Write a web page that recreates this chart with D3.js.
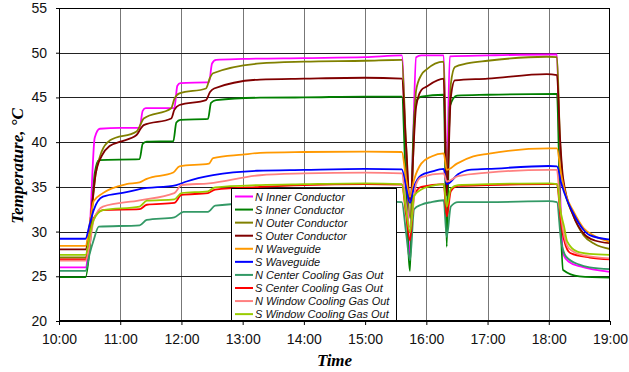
<!DOCTYPE html>
<html>
<head>
<meta charset="utf-8">
<script src="https://cdn.jsdelivr.net/npm/d3@7"></script>
<style>
  body { margin: 0; background: #fff; }
  svg { display: block; }
  .tick text { font-family: Arial, "Liberation Sans", sans-serif; font-size: 14px; fill: #111; }
  .legend text { font-family: Arial, "Liberation Sans", sans-serif; font-size: 11px; font-style: italic; fill: #111; }
  .title { font-family: "Times New Roman", "Liberation Serif", serif; font-weight: bold; font-style: italic; font-size: 17px; fill: #000; }
</style>
</head>
<body>
<svg id="chart" width="629" height="372"></svg>
<script>
// series readings, [time, °C]
const nInnerConductor = [
  ['10:00', 26.0], ['10:26', 26.0], ['10:30', 30.0], ['10:35', 40.5], ['10:40', 41.5], ['11:00', 41.6],
  ['11:19', 41.6], ['11:22', 43.5], ['11:25', 43.8], ['11:53', 43.8], ['11:56', 46.3], ['11:59', 46.6],
  ['12:27', 46.7], ['12:30', 48.8], ['12:34', 49.2], ['13:00', 49.3], ['14:00', 49.4], ['15:00', 49.5],
  ['15:36', 49.7], ['15:40', 38.0], ['15:44', 27.3], ['15:47', 40.0], ['15:50', 49.5], ['15:55', 49.7],
  ['16:17', 49.7], ['16:20', 36.0], ['16:23', 49.6], ['17:00', 49.7], ['18:00', 49.8], ['18:08', 49.8],
  ['18:11', 35.0], ['18:14', 27.5], ['18:20', 26.6], ['18:31', 26.1], ['19:00', 25.5],
];
const sInnerConductor = [
  ['10:00', 24.9], ['10:26', 24.9], ['10:30', 28.0], ['10:35', 36.5], ['10:39', 38.0], ['11:19', 38.1],
  ['11:22', 39.8], ['11:26', 40.05], ['11:52', 40.1], ['11:55', 42.2], ['11:59', 42.5], ['12:26', 42.6],
  ['12:29', 44.4], ['12:34', 44.7], ['13:17', 44.97], ['14:00', 45.0], ['15:00', 45.1], ['15:36', 45.1],
  ['15:40', 35.0], ['15:44', 25.6], ['15:47', 40.0], ['15:50', 44.6], ['15:55', 45.1], ['16:17', 45.3],
  ['16:20', 28.3], ['16:23', 44.0], ['16:30', 45.2], ['17:00', 45.3], ['18:08', 45.4], ['18:11', 33.0],
  ['18:14', 25.7], ['18:30', 25.0], ['19:00', 24.85],
];
const nOuterConductor = [
  ['10:00', 27.1], ['10:26', 27.1], ['10:30', 30.0], ['10:36', 36.5], ['10:42', 39.0], ['10:50', 40.2],
  ['11:16', 41.2], ['11:20', 42.0], ['11:23', 42.65], ['11:50', 43.8], ['11:53', 44.8], ['11:58', 45.45],
  ['12:24', 46.0], ['12:28', 47.2], ['12:31', 47.7], ['13:17', 48.8], ['14:00', 49.0], ['15:00', 49.1],
  ['15:36', 49.2], ['15:40', 40.0], ['15:44', 31.5], ['15:50', 45.8], ['15:55', 47.5], ['16:00', 48.1],
  ['16:17', 49.0], ['16:20', 35.0], ['16:24', 46.5], ['16:28', 48.4], ['16:40', 48.8], ['17:00', 49.1],
  ['17:58', 49.55], ['18:08', 49.5], ['18:11', 40.2], ['18:14', 35.5], ['18:24', 31.8], ['18:34', 29.6],
  ['18:45', 28.6], ['19:00', 28.05],
];
const sOuterConductor = [
  ['10:00', 28.0], ['10:26', 28.0], ['10:30', 30.5], ['10:36', 36.5], ['10:42', 38.5], ['10:50', 39.6],
  ['11:00', 40.05], ['11:16', 40.8], ['11:20', 41.5], ['11:23', 41.9], ['11:50', 42.65], ['11:53', 43.6],
  ['11:58', 44.15], ['12:24', 44.7], ['12:28', 45.6], ['12:32', 46.0], ['13:17', 47.0], ['14:00', 47.1],
  ['15:00', 47.2], ['15:36', 47.1], ['15:40', 40.0], ['15:44', 33.5], ['15:50', 43.96], ['15:55', 45.8],
  ['16:00', 46.2], ['16:17', 47.1], ['16:20', 34.0], ['16:24', 45.0], ['16:28', 46.9], ['17:00', 47.1],
  ['17:58', 47.6], ['18:08', 47.5], ['18:11', 40.5], ['18:14', 36.0], ['18:24', 31.8], ['18:34', 29.8],
  ['18:45', 29.0], ['19:00', 28.7],
];
const nWaveguide = [
  ['10:00', 28.4], ['10:26', 28.4], ['10:30', 30.8], ['10:34', 33.4], ['10:43', 34.3], ['11:06', 35.3],
  ['11:19', 35.5], ['11:26', 35.9], ['11:52', 36.6], ['11:58', 37.3], ['12:27', 37.6], ['12:31', 38.2],
  ['13:00', 38.6], ['13:17', 38.8], ['14:00', 38.9], ['15:00', 38.95], ['15:36', 38.9], ['15:40', 36.0],
  ['15:44', 33.9], ['15:48', 35.8], ['15:55', 37.6], ['16:05', 38.4], ['16:17', 38.75], ['16:20', 36.9],
  ['16:30', 37.6], ['16:46', 38.4], ['17:00', 38.7], ['18:00', 39.3], ['18:08', 39.3], ['18:12', 36.5],
  ['18:17', 34.0], ['18:24', 32.3], ['18:34', 30.4], ['18:45', 29.5], ['19:00', 28.85],
];
const sWaveguide = [
  ['10:00', 29.2], ['10:26', 29.2], ['10:30', 30.8], ['10:34', 32.4], ['10:43', 33.9], ['11:06', 34.4],
  ['11:19', 34.75], ['11:55', 35.2], ['12:05', 35.6], ['12:31', 36.3], ['13:14', 36.8], ['14:00', 36.9],
  ['15:00', 37.0], ['15:36', 36.96], ['15:40', 35.0], ['15:44', 33.2], ['15:48', 35.0], ['15:55', 36.3],
  ['16:05', 36.7], ['16:17', 37.0], ['16:20', 35.3], ['16:31', 36.4], ['16:42', 36.9], ['17:00', 37.0],
  ['18:00', 37.33], ['18:08', 37.3], ['18:12', 35.5], ['18:18', 33.5], ['18:24', 32.05], ['18:34', 30.2],
  ['18:40', 29.6], ['19:00', 29.1],
];
const nCenterCooling = [
  ['10:00', 25.6], ['10:26', 25.6], ['10:30', 27.5], ['10:34', 29.05], ['10:39', 30.55], ['11:19', 30.7],
  ['11:26', 31.3], ['11:53', 31.6], ['12:02', 32.2], ['12:26', 32.2], ['12:33', 32.9], ['13:17', 33.2],
  ['14:00', 33.3], ['15:00', 33.4], ['15:36', 33.3], ['15:40', 30.0], ['15:44', 26.8], ['15:48', 32.5],
  ['15:55', 33.0], ['16:05', 33.3], ['16:17', 33.5], ['16:20', 29.4], ['16:24', 32.8], ['16:31', 33.3],
  ['17:00', 33.3], ['18:00', 33.4], ['18:08', 33.3], ['18:12', 29.0], ['18:17', 27.2], ['18:30', 26.3],
  ['18:40', 26.0], ['19:00', 25.8],
];
const sCenterCooling = [
  ['10:00', 26.9], ['10:26', 26.9], ['10:30', 29.0], ['10:34', 31.5], ['10:43', 32.4], ['11:19', 32.5],
  ['11:26', 33.0], ['11:53', 33.2], ['12:00', 34.1], ['12:26', 34.3], ['12:33', 34.7], ['13:17', 35.0],
  ['14:00', 35.2], ['15:00', 35.3], ['15:36', 35.25], ['15:40', 32.0], ['15:44', 29.0], ['15:48', 34.0],
  ['15:55', 35.0], ['16:17', 35.3], ['16:20', 31.7], ['16:24', 34.5], ['16:31', 35.1], ['17:00', 35.2],
  ['18:00', 35.3], ['18:08', 35.3], ['18:12', 31.0], ['18:15', 29.05], ['18:21', 27.6], ['18:40', 27.1],
  ['19:00', 26.9],
];
const nWindowCooling = [
  ['10:00', 26.75], ['10:26', 26.75], ['10:30', 28.5], ['10:34', 31.3], ['10:43', 32.8], ['11:19', 33.5],
  ['11:53', 34.3], ['12:00', 35.2], ['12:27', 35.4], ['13:17', 36.3], ['14:00', 36.5], ['15:00', 36.6],
  ['15:36', 36.5], ['15:40', 33.0], ['15:44', 30.5], ['15:50', 35.3], ['15:55', 36.1], ['16:17', 36.5],
  ['16:20', 35.6], ['16:31', 36.2], ['17:00', 36.6], ['18:00', 36.9], ['18:08', 36.9], ['18:11', 33.0],
  ['18:14', 30.2], ['18:20', 28.1], ['18:35', 27.3], ['19:00', 27.0],
];
const sWindowCooling = [
  ['10:00', 27.4], ['10:26', 27.4], ['10:30', 29.5], ['10:34', 31.3], ['10:43', 32.4], ['11:19', 32.8],
  ['11:26', 33.45], ['11:53', 33.6], ['12:00', 34.3], ['12:26', 34.5], ['12:33', 34.95], ['13:17', 35.2],
  ['14:00', 35.3], ['15:00', 35.4], ['15:36', 35.3], ['15:40', 32.5], ['15:44', 29.9], ['15:48', 34.0],
  ['15:55', 34.7], ['16:05', 35.1], ['16:17', 35.3], ['16:20', 32.8], ['16:24', 34.8], ['16:31', 35.2],
  ['17:00', 35.3], ['18:00', 35.4], ['18:08', 35.3], ['18:12', 32.0], ['18:15', 30.55], ['18:18', 28.9],
  ['18:28', 27.75], ['18:40', 27.5], ['19:00', 27.4],
];

const seriesNames = [
  'N Inner Conductor', 'S Inner Conductor', 'N Outer Conductor', 'S Outer Conductor',
  'N Waveguide', 'S Waveguide', 'N Center Cooling Gas Out', 'S Center Cooling Gas Out',
  'N Window Cooling Gas Out', 'S Window Cooling Gas Out',
];
const seriesValues = [
  nInnerConductor, sInnerConductor, nOuterConductor, sOuterConductor, nWaveguide,
  sWaveguide, nCenterCooling, sCenterCooling, nWindowCooling, sWindowCooling,
];
const seriesColors = [
  '#ff00ff', '#008000', '#808000', '#800000', '#ff9900',
  '#0000ff', '#339966', '#ff0000', '#ff8080', '#99cc00',
];
const yTicks = [20, 25, 30, 35, 40, 45, 50, 55];
const xTickLabels = ['10:00', '11:00', '12:00', '13:00', '14:00', '15:00', '16:00', '17:00', '18:00', '19:00'];

const svg = d3.select('#chart');
const margin = { left: 59, right: 19, top: 8, bottom: 51 };
const width = +svg.attr('width');
const height = +svg.attr('height');
const parseTime = d3.timeParse('%H:%M');

const x = d3.scaleTime()
  .domain([parseTime(xTickLabels[0]), parseTime(xTickLabels[xTickLabels.length - 1])])
  .range([margin.left, width - margin.right]);
const y = d3.scaleLinear()
  .domain([20, 55])
  .range([height - margin.bottom, margin.top]);

// grid
svg.append('g')
  .selectAll('line')
  .data(xTickLabels.slice(1, -1))
  .enter()
  .append('line')
  .attr('x1', (d) => Math.round(x(parseTime(d))) + 0.5)
  .attr('x2', (d) => Math.round(x(parseTime(d))) + 0.5)
  .attr('y1', y(55))
  .attr('y2', y(20))
  .attr('stroke', '#777')
  .attr('stroke-width', 1);

svg.append('g')
  .selectAll('line')
  .data(yTicks.slice(1, -1))
  .enter()
  .append('line')
  .attr('x1', x.range()[0])
  .attr('x2', x.range()[1])
  .attr('y1', (d) => Math.round(y(d)) + 0.5)
  .attr('y2', (d) => Math.round(y(d)) + 0.5)
  .attr('stroke', '#222')
  .attr('stroke-width', 1);

svg.append('defs').append('clipPath')
  .attr('id', 'plot-clip')
  .append('rect')
  .attr('x', margin.left)
  .attr('y', margin.top)
  .attr('width', width - margin.left - margin.right)
  .attr('height', height - margin.top - margin.bottom);

const line = d3.line()
  .x((d) => x(parseTime(d[0])))
  .y((d) => y(d[1]))
  .curve(d3.curveMonotoneX);

svg.append('g')
  .attr('clip-path', 'url(#plot-clip)')
  .selectAll('path')
  .data(seriesValues)
  .enter()
  .append('path')
  .attr('d', line)
  .attr('fill', 'none')
  .attr('stroke', (_, i) => seriesColors[i])
  .attr('stroke-width', 1.8)
  .attr('stroke-linejoin', 'round');

// frame
svg.append('rect')
  .attr('x', margin.left + 0.5)
  .attr('y', margin.top + 0.5)
  .attr('width', width - margin.left - margin.right - 1)
  .attr('height', height - margin.top - margin.bottom - 1)
  .attr('fill', 'none')
  .attr('stroke', '#000');

// axes
const xAxis = svg.append('g')
  .attr('transform', `translate(0,${height - margin.bottom})`)
  .call(d3.axisBottom(x)
    .tickValues(xTickLabels.map(parseTime))
    .tickFormat(d3.timeFormat('%H:%M'))
    .tickSizeInner(4)
    .tickSizeOuter(0)
    .tickPadding(9));
xAxis.select('.domain').attr('stroke', '#000');
xAxis.selectAll('.tick line').attr('stroke', '#000');

const yAxis = svg.append('g')
  .attr('transform', `translate(${margin.left},0)`)
  .call(d3.axisLeft(y)
    .tickValues(yTicks)
    .tickSizeInner(3)
    .tickSizeOuter(0)
    .tickPadding(9));
yAxis.select('.domain').attr('stroke', '#000');
yAxis.selectAll('.tick line').attr('stroke', '#000');

svg.append('text')
  .attr('class', 'title')
  .attr('text-anchor', 'middle')
  .attr('x', (x.range()[0] + x.range()[1]) / 2)
  .attr('y', 366)
  .text('Time');

svg.append('text')
  .attr('class', 'title')
  .attr('text-anchor', 'middle')
  .attr('transform', 'translate(23,166) rotate(-90)')
  .text('Temperature, °C');

// legend
const legend = svg.append('g').attr('class', 'legend');
legend.append('rect')
  .attr('x', 231.5)
  .attr('y', 188.5)
  .attr('width', 165)
  .attr('height', 132)
  .attr('fill', '#fff')
  .attr('stroke', '#000');

const rows = legend.selectAll('g.row')
  .data(seriesNames)
  .enter()
  .append('g')
  .attr('class', 'row')
  .attr('transform', (_, i) => `translate(235,${196.5 + i * 13.07})`);

rows.append('line')
  .attr('x1', 0)
  .attr('x2', 18)
  .attr('stroke', (_, i) => seriesColors[i])
  .attr('stroke-width', 2);

rows.append('text')
  .attr('x', 20)
  .attr('y', 4)
  .text((d) => d);
</script>
</body>
</html>
